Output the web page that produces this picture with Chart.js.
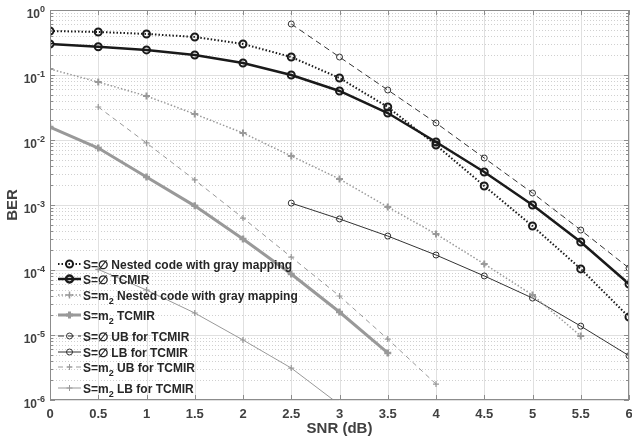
<!DOCTYPE html>
<html>
<head>
<meta charset="utf-8">
<script src="https://cdn.jsdelivr.net/npm/chart.js@4.4.0/dist/chart.umd.min.js"></script>
<style>
    body { margin: 0; background: #fff; }
    canvas { display: block; }
</style>
</head>
<body>
<canvas id="berChart" width="632" height="440"></canvas>
<script>
// SNR grid (dB)
const snr = [0, 0.5, 1, 1.5, 2, 2.5, 3, 3.5, 4, 4.5, 5, 5.5, 6];
const snrFrom05 = snr.slice(1);
const snrFrom25 = snr.slice(5);

// BER values
const emptyNested = [0.475, 0.459, 0.428, 0.385, 0.300, 0.189, 0.090, 0.0322, 0.00838, 0.00196, 0.000475, 0.000104, 0.0000189];
const emptyTcmir = [0.300, 0.272, 0.243, 0.203, 0.153, 0.100, 0.0568, 0.0260, 0.00931, 0.00322, 0.00100, 0.00027, 0.000061];
const m2Nested = [0.1236, 0.078, 0.0475, 0.0251, 0.0128, 0.00568, 0.00251, 0.00093, 0.000358, 0.000124, 0.0000412, 0.00000966];
const m2Tcmir = [0.0158, 0.00753, 0.0027, 0.00097, 0.0003, 0.0000868, 0.0000226, 0.00000529];
const emptyUb = [0.609, 0.189, 0.0588, 0.0183, 0.00528, 0.00153, 0.000412, 0.000107];
const emptyLb = [0.00107, 0.00061, 0.000333, 0.00017, 0.000081, 0.000037, 0.0000137, 0.0000048];
const m2Ub = [0.0322, 0.009, 0.00243, 0.00063, 0.000158, 0.0000398, 0.00000867, 0.00000176];
const m2Lb = [0.000102, 0.0000492, 0.0000218, 0.00000838, 0.0000031, 0.00000085];

// legend text: [before subscript, subscript, after]
const legendText = [
    ['S=\u2205', '', ' Nested code with gray mapping'],
    ['S=\u2205', '', ' TCMIR'],
    ['S=m', '2', ' Nested code with gray mapping'],
    ['S=m', '2', ' TCMIR'],
    ['S=\u2205', '', ' UB for TCMIR'],
    ['S=\u2205', '', ' LB for TCMIR'],
    ['S=m', '2', ' UB for TCMIR'],
    ['S=m', '2', ' LB for TCMIR']
];
const legendRows = [264, 279, 295, 315, 336, 352, 367, 388];

const yExponents = [0, -1, -2, -3, -4, -5, -6];
const xTickValues = snr;

const BLACK = '#1a1a1a';
const DARK = '#333333';
const GRAY = '#999999';
const AXIS = '#8c8c8c';
const TEXT = '#404040';
const FONT = '"Liberation Sans", Arial, sans-serif';

function toPoints(xs, ys) {
    return ys.map((y, i) => ({ x: xs[i], y: y }));
}

function series(data, color, width, dash, style, radius, markerWidth) {
    return {
        data: data,
        borderColor: color,
        borderWidth: width,
        borderDash: dash,
        pointStyle: style,
        pointRadius: radius,
        pointBorderColor: color,
        pointBorderWidth: markerWidth,
        pointBackgroundColor: 'rgba(0,0,0,0)',
        pointHoverRadius: radius,
        tension: 0,
        fill: false
    };
}

const datasets = [
    series(toPoints(snr, emptyNested), BLACK, 2, [1.5, 2], 'circle', 3.5, 2),
    series(toPoints(snr, emptyTcmir), BLACK, 2.5, [], 'circle', 3.5, 2),
    series(toPoints(snr, m2Nested), GRAY, 1.5, [1.5, 2], 'cross', 3.5, 2),
    series(toPoints(snr, m2Tcmir), GRAY, 3, [], 'cross', 3.5, 2.5),
    series(toPoints(snrFrom25, emptyUb), DARK, 1, [6, 4], 'circle', 3, 1),
    series(toPoints(snrFrom25, emptyLb), DARK, 1, [], 'circle', 3, 1),
    series(toPoints(snrFrom05, m2Ub), GRAY, 1, [5, 4], 'cross', 3, 1.2),
    series(toPoints(snrFrom05, m2Lb), GRAY, 1, [], 'cross', 3, 1.2)
];

// grid lines drawn before the data
const gridPlugin = {
    id: 'matlabGrid',
    beforeDatasetsDraw(chart) {
        const { ctx, chartArea: a, scales: { x, y } } = chart;
        ctx.save();
        ctx.lineWidth = 1;
        // minor horizontal lines
        ctx.strokeStyle = '#d0d0d0';
        ctx.setLineDash([1, 2]);
        yExponents.forEach(e => {
            if (e === 0) return;
            for (let m = 2; m <= 9; m++) {
                const py = Math.round(y.getPixelForValue(m * Math.pow(10, e))) + 0.5;
                ctx.beginPath();
                ctx.moveTo(a.left, py);
                ctx.lineTo(a.right, py);
                ctx.stroke();
            }
        });
        ctx.setLineDash([]);
        ctx.strokeStyle = '#e0e0e0';
        yExponents.forEach(e => {
            const py = Math.round(y.getPixelForValue(Math.pow(10, e))) + 0.5;
            ctx.beginPath();
            ctx.moveTo(a.left, py);
            ctx.lineTo(a.right, py);
            ctx.stroke();
        });
        xTickValues.forEach(v => {
            const px = Math.round(x.getPixelForValue(v)) + 0.5;
            ctx.beginPath();
            ctx.moveTo(px, a.top);
            ctx.lineTo(px, a.bottom);
            ctx.stroke();
        });
        ctx.restore();
    },
    afterDraw(chart) {
        const { ctx, chartArea: a, scales: { x, y } } = chart;
        ctx.save();
        // axes box + inward ticks
        ctx.strokeStyle = AXIS;
        ctx.lineWidth = 1;
        ctx.strokeRect(Math.round(a.left) + 0.5, Math.round(a.top) + 0.5,
            Math.round(a.right - a.left) - 1, Math.round(a.bottom - a.top) - 1);
        ctx.beginPath();
        xTickValues.forEach(v => {
            const px = Math.round(x.getPixelForValue(v)) + 0.5;
            ctx.moveTo(px, a.bottom);
            ctx.lineTo(px, a.bottom - 5);
            ctx.moveTo(px, a.top);
            ctx.lineTo(px, a.top + 5);
        });
        yExponents.forEach(e => {
            for (let m = 1; m <= 9; m++) {
                if (e === 0 && m > 1) break;
                const py = Math.round(y.getPixelForValue(m * Math.pow(10, e))) + 0.5;
                const len = m === 1 ? 5 : 3;
                ctx.moveTo(a.left, py);
                ctx.lineTo(a.left + len, py);
                ctx.moveTo(a.right, py);
                ctx.lineTo(a.right - len, py);
            }
        });
        ctx.stroke();

        // x tick labels
        ctx.fillStyle = TEXT;
        ctx.textBaseline = 'alphabetic';
        ctx.textAlign = 'center';
        ctx.font = 'bold 13px ' + FONT;
        xTickValues.forEach(v => {
            ctx.fillText(String(v), x.getPixelForValue(v), a.bottom + 18);
        });

        // y tick labels as 10^n
        ctx.textAlign = 'left';
        yExponents.forEach(e => {
            const py = y.getPixelForValue(Math.pow(10, e));
            const expText = e === 0 ? '0' : '-' + Math.abs(e);
            ctx.font = 'bold 9px ' + FONT;
            const expW = ctx.measureText(expText).width;
            ctx.font = 'bold 12px ' + FONT;
            const baseW = ctx.measureText('10').width;
            const right = a.left - 5;
            ctx.fillText('10', right - expW - baseW, py + 8);
            ctx.font = 'bold 9px ' + FONT;
            ctx.fillText(expText, right - expW, py + 2);
        });

        // legend inside the axes (no box)
        chart.data.datasets.forEach((ds, i) => {
            const ly = legendRows[i];
            ctx.save();
            ctx.strokeStyle = ds.borderColor;
            ctx.lineWidth = ds.borderWidth;
            ctx.setLineDash(ds.borderDash);
            ctx.beginPath();
            ctx.moveTo(58, ly);
            ctx.lineTo(81, ly);
            ctx.stroke();
            ctx.setLineDash([]);
            ctx.strokeStyle = ds.pointBorderColor;
            ctx.fillStyle = ds.pointBackgroundColor;
            Chart.helpers.drawPoint(ctx, {
                pointStyle: ds.pointStyle,
                radius: ds.pointRadius,
                borderWidth: ds.pointBorderWidth,
                rotation: 0
            }, 69.5, ly);
            ctx.restore();

            const [pre, sub, post] = legendText[i];
            const textY = ly + 4.5;
            let tx = 83;
            ctx.fillStyle = '#262626';
            ctx.font = 'bold 12px ' + FONT;
            ctx.fillText(pre, tx, textY);
            tx += ctx.measureText(pre).width;
            if (sub) {
                ctx.font = 'bold 9px ' + FONT;
                ctx.fillText(sub, tx, textY + 4);
                tx += ctx.measureText(sub).width;
                ctx.font = 'bold 12px ' + FONT;
            }
            ctx.fillText(post, tx, textY);
        });
        ctx.restore();
    }
};

const ctx = document.getElementById('berChart').getContext('2d');
const berChart = new Chart(ctx, {
    type: 'line',
    data: { datasets: datasets },
    options: {
        responsive: false,
        animation: false,
        devicePixelRatio: 1,
        layout: { autoPadding: false, padding: { top: 10, right: 3, left: 0, bottom: 0 } },
        plugins: {
            legend: { display: false },
            tooltip: { enabled: false }
        },
        scales: {
            x: {
                type: 'linear',
                min: 0,
                max: 6,
                afterBuildTicks: scale => {
                    scale.ticks = xTickValues.map(v => ({ value: v }));
                },
                afterFit: scale => { scale.height = 40; },
                grid: { display: false, drawTicks: false },
                border: { display: false },
                ticks: { display: false },
                title: {
                    display: true,
                    text: 'SNR (dB)',
                    color: TEXT,
                    padding: { top: 0, bottom: 2 },
                    font: { family: FONT, size: 15, weight: 'bold' }
                }
            },
            y: {
                type: 'logarithmic',
                min: 1e-6,
                max: 1,
                afterFit: scale => { scale.width = 50; },
                grid: { display: false },
                border: { display: false },
                ticks: { display: false },
                title: {
                    display: true,
                    text: 'BER',
                    color: TEXT,
                    padding: { top: 4, bottom: 0 },
                    font: { family: FONT, size: 15, weight: 'bold' }
                }
            }
        }
    },
    plugins: [gridPlugin]
});
</script>
</body>
</html>
